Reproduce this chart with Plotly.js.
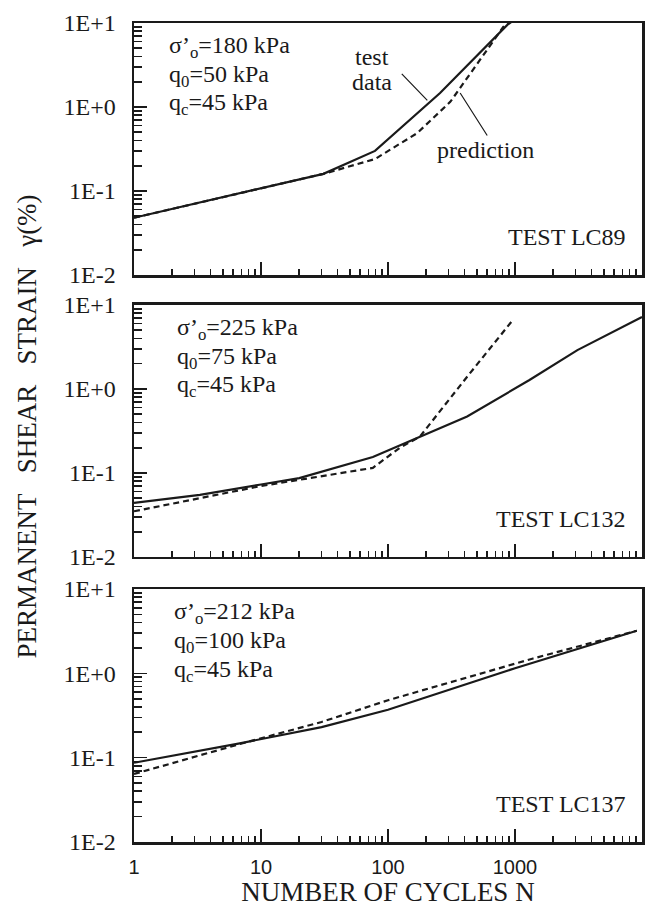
<!DOCTYPE html>
<html>
<head>
<meta charset="utf-8">
<script src="https://cdn.plot.ly/plotly-3.0.1.min.js"></script>
<style>html,body{margin:0;padding:0;background:#fff;}#chart{width:650px;height:908px;}</style>
</head>
<body>
<div id="chart"></div>
<script>
// ---- data ----
const N1_test = [1, 10, 31, 79, 257, 870, 1300];
const G1_test = [0.048, 0.107, 0.16, 0.30, 1.47, 9.5, 14.7];
const N1_pred = [1, 10, 31, 79, 170, 309, 810, 900];
const G1_pred = [0.048, 0.107, 0.16, 0.24, 0.49, 1.15, 9.0, 10.5];

const N2_test = [1, 3.3, 10, 20, 76, 178, 420, 1300, 3100, 10000];
const G2_test = [0.044, 0.055, 0.073, 0.087, 0.155, 0.27, 0.47, 1.28, 2.9, 7.2];
const N2_pred = [1, 3.3, 10, 76, 124, 178, 420, 960];
const G2_pred = [0.035, 0.05, 0.07, 0.115, 0.20, 0.27, 1.4, 6.6];

const N3_test = [1, 6.8, 30, 100, 1000, 9100];
const G3_test = [0.087, 0.148, 0.23, 0.37, 1.15, 3.2];
const N3_pred = [1, 6.8, 30, 100, 1390, 9100];
const G3_pred = [0.064, 0.145, 0.265, 0.48, 1.5, 3.2];

const panelTitles = ["TEST LC89", "TEST LC132", "TEST LC137"];
const sigmaVals = ["180", "225", "212"];
const q0Vals = ["50", "75", "100"];
const qcVals = ["45", "45", "45"];
const xTickVals = [1, 10, 100, 1000];
const xTickText = ["1", "10", "100", "1000"];
const yTickVals = [0.01, 0.1, 1, 10];
const yTickText = ["1E-2", "1E-1", "1E+0", "1E+1"];

// ---- styling ----
const serif = "Liberation Serif, Times New Roman, serif";
const sans = "Liberation Sans, Arial, sans-serif";
const ink = "#1a1a1a";

const solid = {color: ink, width: 2.2, dash: "solid"};
const dashed = {color: ink, width: 2.2, dash: "6px,4px"};

const sets = [
  [N1_test, G1_test, N1_pred, G1_pred],
  [N2_test, G2_test, N2_pred, G2_pred],
  [N3_test, G3_test, N3_pred, G3_pred]
];
const traces = [];
sets.forEach((s, i) => {
  const xa = i === 0 ? "x" : "x" + (i + 1);
  const ya = i === 0 ? "y" : "y" + (i + 1);
  traces.push({x: s[0], y: s[1], xaxis: xa, yaxis: ya, mode: "lines", line: solid, name: "test data", showlegend: false, hoverinfo: "skip"});
  traces.push({x: s[2], y: s[3], xaxis: xa, yaxis: ya, mode: "lines", line: dashed, name: "prediction", showlegend: false, hoverinfo: "skip"});
});

const domains = [[0.6923, 1.0], [0.348, 0.6557], [0.0, 0.3089]];

function xAxis(i) {
  return {
    type: "log", range: [0, 4], domain: [0, 1],
    anchor: i === 0 ? "y" : "y" + (i + 1),
    showgrid: false, zeroline: false,
    showline: true, mirror: true, linecolor: ink, linewidth: 2.5,
    ticks: "inside", ticklen: 13, tickwidth: 1.6, tickcolor: ink,
    tickvals: xTickVals, ticktext: xTickText,
    showticklabels: i === 2,
    tickfont: {family: sans, size: 20, color: ink},
    ticklabelstandoff: 5,
    minor: {ticks: "inside", ticklen: 6, tickwidth: 1.6, tickcolor: ink, dtick: "D1", showgrid: false},
    title: i === 2 ? {text: "NUMBER OF CYCLES N", font: {family: serif, size: 27, color: ink}, standoff: 2} : {text: ""}
  };
}
function yAxis(i) {
  return {
    type: "log", range: [-2, 1], domain: domains[i],
    anchor: i === 0 ? "x" : "x" + (i + 1),
    showgrid: false, zeroline: false,
    showline: true, mirror: true, linecolor: ink, linewidth: 2.5,
    ticks: "inside", ticklen: 13, tickwidth: 1.6, tickcolor: ink,
    tickvals: yTickVals, ticktext: yTickText,
    tickfont: {family: serif, size: 24, color: ink},
    ticklabelstandoff: 11,
    minor: {ticks: "inside", ticklen: 8, tickwidth: 1.6, tickcolor: ink, dtick: "D1", showgrid: false}
  };
}

const annotations = [];
const textX = [0.065, 0.08, 0.075];
const textFont = {family: serif, size: 24, color: ink};
for (let i = 0; i < 3; i++) {
  const xr = (i === 0 ? "x" : "x" + (i + 1)) + " domain";
  const yr = (i === 0 ? "y" : "y" + (i + 1)) + " domain";
  const lines = [
    "σ’<sub>o</sub>=" + sigmaVals[i] + " kPa",
    "q<sub>0</sub>=" + q0Vals[i] + " kPa",
    "q<sub>c</sub>=" + qcVals[i] + " kPa"
  ];
  const ys = [0.905, 0.79, 0.677];
  lines.forEach((t, k) => annotations.push({
    xref: xr, yref: yr, x: textX[i], y: ys[k], xanchor: "left", yanchor: "middle",
    text: t, showarrow: false, font: textFont
  }));
  annotations.push({
    xref: xr, yref: yr, x: 0.972, y: 0.151, xanchor: "right", yanchor: "middle",
    text: panelTitles[i], showarrow: false, font: textFont
  });
}
// legend-like labels in panel 1
annotations.push({xref: "x domain", yref: "y domain", x: 0.469, y: 0.865, xanchor: "center", yanchor: "middle",
  text: "test", showarrow: false, font: textFont});
annotations.push({xref: "x domain", yref: "y domain", x: 0.469, y: 0.766, xanchor: "center", yanchor: "middle",
  text: "data", showarrow: false, font: textFont});
annotations.push({xref: "x domain", yref: "y domain", x: 0.691, y: 0.496, xanchor: "center", yanchor: "middle",
  text: "prediction", showarrow: false, font: textFont});
annotations.push({xref: "x", yref: "y", x: Math.log10(204), y: Math.log10(1.2), ax: -27, ay: -28,
  text: "", showarrow: true, arrowhead: 0, arrowwidth: 1.2, arrowcolor: ink, standoff: 0});
annotations.push({xref: "x", yref: "y", x: Math.log10(370), y: Math.log10(1.47), ax: 28, ay: 44,
  text: "", showarrow: true, arrowhead: 0, arrowwidth: 1.2, arrowcolor: ink, standoff: 0});
// y title spanning all panels
annotations.push({xref: "paper", yref: "paper", x: -0.211, y: 0.507, xanchor: "center", yanchor: "middle",
  textangle: -90, text: "PERMANENT\u00a0\u00a0 SHEAR\u00a0\u00a0 STRAIN\u00a0\u00a0 γ(%)", showarrow: false,
  font: {family: serif, size: 27, color: ink}});

const layout = {
  width: 650, height: 908,
  margin: {l: 134, r: 8, t: 23, b: 66},
  paper_bgcolor: "#fff", plot_bgcolor: "#fff",
  showlegend: false,
  xaxis: xAxis(0), xaxis2: xAxis(1), xaxis3: xAxis(2),
  yaxis: yAxis(0), yaxis2: yAxis(1), yaxis3: yAxis(2),
  annotations: annotations
};

Plotly.newPlot("chart", traces, layout, {staticPlot: true, displayModeBar: false});
</script>
</body>
</html>
